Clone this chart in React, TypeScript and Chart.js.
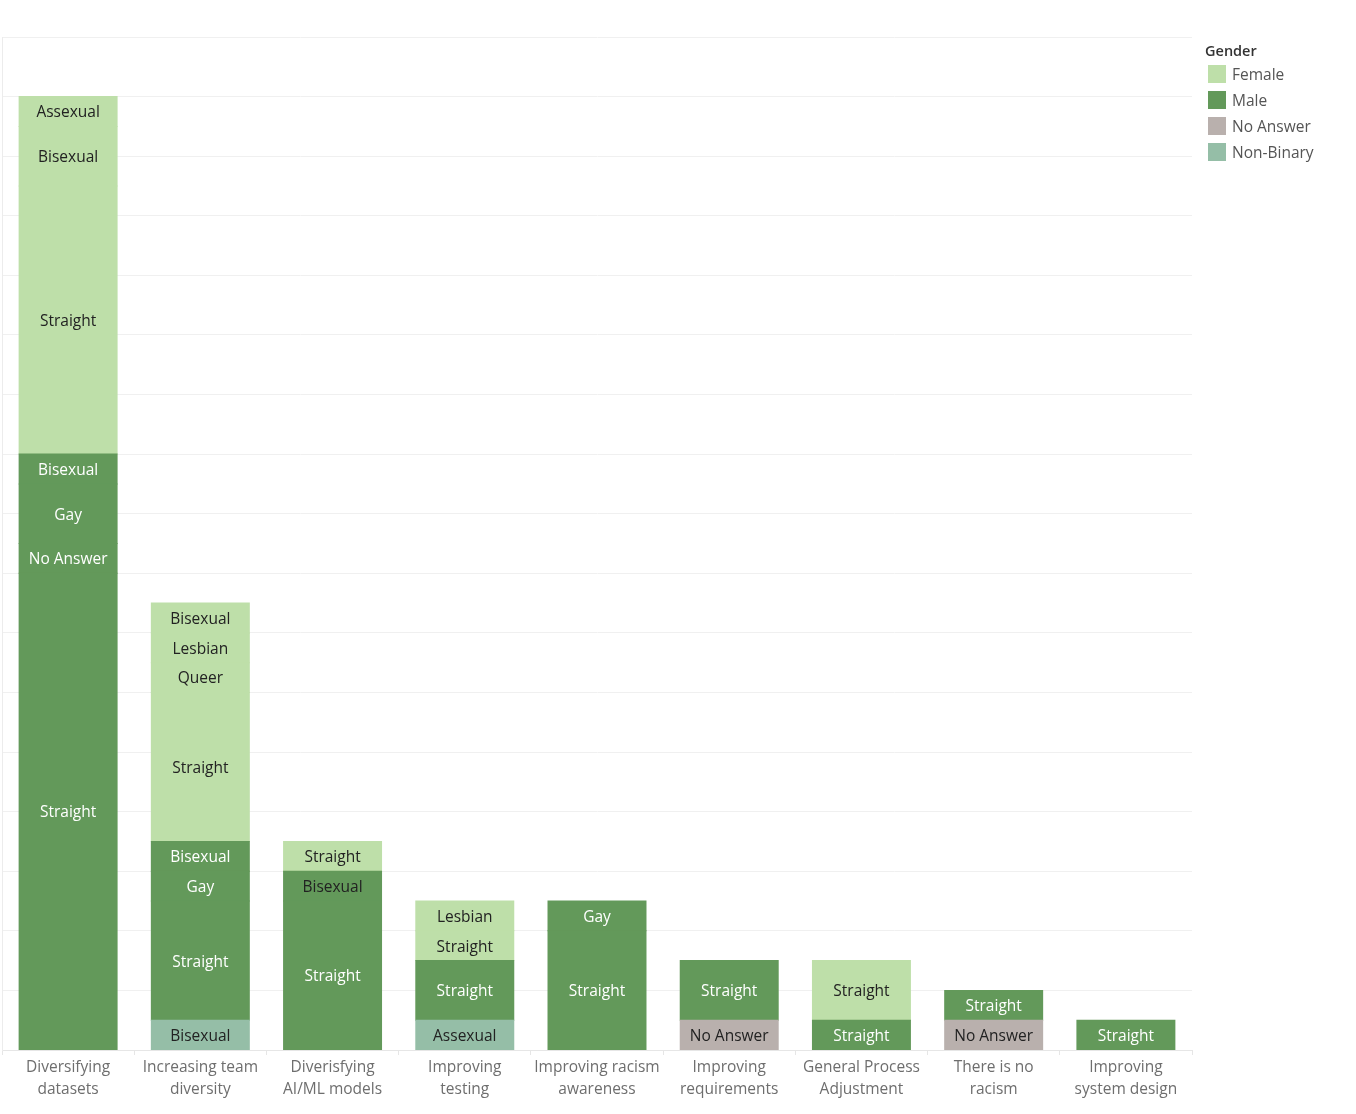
import { useEffect, useRef } from "react"
import { Chart, type ChartConfiguration, type Plugin, registerables } from "chart.js"

Chart.register(...registerables)

const categories = [
  ["Diversifying", "datasets"],
  ["Increasing team", "diversity"],
  ["Diverisfying", "AI/ML models"],
  ["Improving", "testing"],
  ["Improving racism", "awareness"],
  ["Improving", "requirements"],
  ["General Process", "Adjustment"],
  ["There is no", "racism"],
  ["Improving", "system design"],
]

// counts per category, one array per gender / orientation pair
const femaleAssexual = [1, 0, 0, 0, 0, 0, 0, 0, 0]
const femaleBisexual = [2, 1, 0, 0, 0, 0, 0, 0, 0]
const femaleLesbian = [0, 1, 0, 1, 0, 0, 0, 0, 0]
const femaleQueer = [0, 1, 0, 0, 0, 0, 0, 0, 0]
const femaleStraight = [9, 5, 1, 1, 0, 0, 2, 0, 0]
const maleBisexual = [1, 1, 1, 0, 0, 0, 0, 0, 0]
const maleGay = [2, 1, 0, 0, 1, 0, 0, 0, 0]
const maleNoAnswer = [1, 0, 0, 0, 0, 0, 0, 0, 0]
const maleStraight = [16, 4, 5, 2, 4, 2, 1, 1, 1]
const noAnswerNoAnswer = [0, 0, 0, 0, 0, 1, 0, 1, 0]
const nonBinaryAssexual = [0, 0, 0, 1, 0, 0, 0, 0, 0]
const nonBinaryBisexual = [0, 1, 0, 0, 0, 0, 0, 0, 0]

const genders = ["Female", "Male", "No Answer", "Non-Binary"]
const genderColors: Record<string, string> = {
  Female: "#bedfa9",
  Male: "#63995a",
  "No Answer": "#b9b0ad",
  "Non-Binary": "#95bea7",
}
const labelColors: Record<string, string> = {
  Female: "#222222",
  Male: "#ffffff",
  "No Answer": "#222222",
  "Non-Binary": "#222222",
}

// stacked bottom to top
const series: [string, string, number[]][] = [
  ["Non-Binary", "Bisexual", nonBinaryBisexual],
  ["Non-Binary", "Assexual", nonBinaryAssexual],
  ["No Answer", "No Answer", noAnswerNoAnswer],
  ["Male", "Straight", maleStraight],
  ["Male", "No Answer", maleNoAnswer],
  ["Male", "Gay", maleGay],
  ["Male", "Bisexual", maleBisexual],
  ["Female", "Straight", femaleStraight],
  ["Female", "Queer", femaleQueer],
  ["Female", "Lesbian", femaleLesbian],
  ["Female", "Bisexual", femaleBisexual],
  ["Female", "Assexual", femaleAssexual],
]

// Tableau picked a dark label for this one segment
const darkLabelSegments = ["Male|Bisexual|2"]

const FONT = "'Open Sans', sans-serif"

const segmentLabels: Plugin<"bar"> = {
  id: "segmentLabels",
  afterDatasetsDraw(chart) {
    const ctx = chart.ctx
    ctx.save()
    ctx.font = `15.5px ${FONT}`
    ctx.textAlign = "center"
    ctx.textBaseline = "middle"
    chart.data.datasets.forEach((ds: any, di) => {
      const meta = chart.getDatasetMeta(di)
      meta.data.forEach((el: any, i) => {
        const v = ds.data[i]
        if (!v) return
        const key = `${ds.gender}|${ds.orientation}|${i}`
        ctx.fillStyle = darkLabelSegments.includes(key) ? "#222222" : labelColors[ds.gender]
        ctx.fillText(ds.orientation, el.x, (el.y + el.base) / 2 + 1.5)
      })
    })
    ctx.restore()
  },
}

function StackedChart() {
  const chartRef = useRef<HTMLCanvasElement>(null)
  const chartInstance = useRef<Chart | null>(null)

  useEffect(() => {
    if (!chartRef.current) return
    const ctx = chartRef.current.getContext("2d")
    if (!ctx) return
    if (chartInstance.current) chartInstance.current.destroy()

    const config: ChartConfiguration<"bar"> = {
      type: "bar",
      data: {
        labels: categories,
        datasets: series.map(([gender, orientation, values]) => ({
          label: `${gender} - ${orientation}`,
          gender,
          orientation,
          data: values.map((v) => (v === 0 ? null : v)),
          backgroundColor: genderColors[gender],
          borderWidth: 0,
          inflateAmount: 0.5,
          barPercentage: 0.741,
          categoryPercentage: 1,
        })) as any,
      },
      options: {
        responsive: false,
        animation: false,
        layout: { padding: { left: 2, right: 164, top: 37, bottom: 0 } },
        plugins: {
          legend: { display: false },
          tooltip: { enabled: false },
        },
        scales: {
          x: {
            stacked: true,
            afterFit: (s) => {
              s.height = 64
            },
            grid: {
              drawOnChartArea: false,
              drawTicks: true,
              tickLength: 5,
              color: "#e6e6e6",
              offset: true,
            },
            border: { color: "#e6e6e6" },
            ticks: {
              padding: 2,
              color: "#6e6e6e",
              font: { family: FONT, size: 15.5, lineHeight: 1.42 },
            },
          },
          y: {
            stacked: true,
            min: 0,
            max: 34,
            afterFit: (s) => {
              s.width = 0
            },
            grid: { color: "#f0f0f0", drawTicks: false },
            border: { color: "#ececec" },
            ticks: { display: false, stepSize: 2 },
          },
        },
      },
      plugins: [segmentLabels],
    }

    chartInstance.current = new Chart(ctx, config)
    return () => {
      if (chartInstance.current) chartInstance.current.destroy()
    }
  }, [])

  return <canvas ref={chartRef} width={1356} height={1114} style={{ display: "block" }} />
}

export default function App() {
  useEffect(() => {
    document.body.style.margin = "0"
  }, [])

  return (
    <div style={{ position: "relative", width: 1356, height: 1114, background: "#fff" }}>
      <StackedChart />
      <div style={{ position: "absolute", left: 1205, top: 40, fontFamily: FONT }}>
        <div style={{ fontSize: 14.5, fontWeight: 600, color: "#333", height: 21, lineHeight: "21px" }}>Gender</div>
        {genders.map((g) => (
          <div key={g} style={{ display: "flex", alignItems: "center", height: 26 }}>
            <span
              style={{ display: "inline-block", width: 18, height: 18, marginLeft: 3, background: genderColors[g] }}
            />
            <span style={{ marginLeft: 6, fontSize: 15.5, color: "#555", lineHeight: "18px" }}>{g}</span>
          </div>
        ))}
      </div>
    </div>
  )
}
